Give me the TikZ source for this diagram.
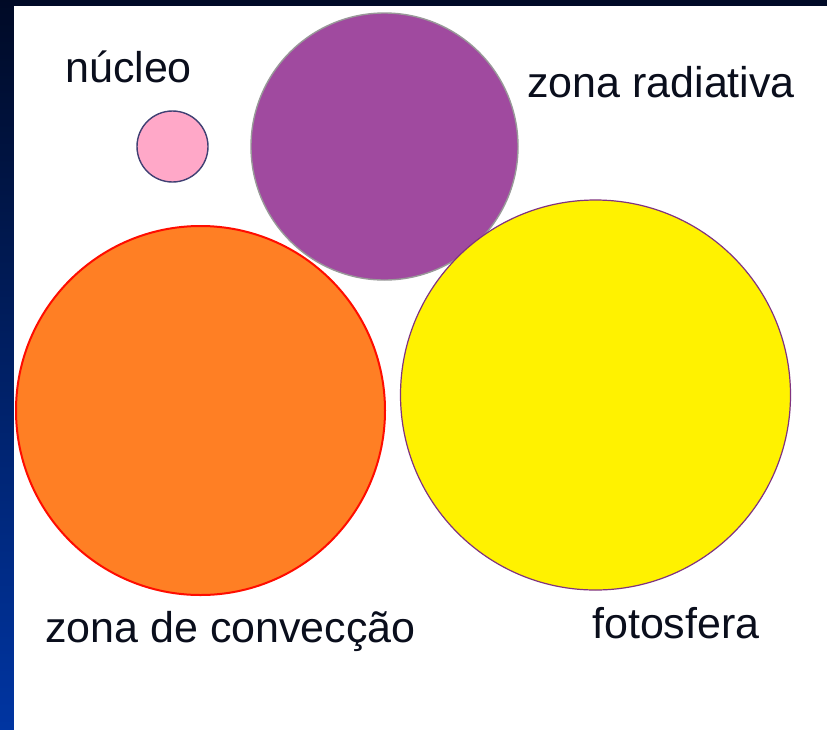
\documentclass[tikz,border=0pt]{standalone}
\usepackage{fontspec}
\setmainfont{Liberation Sans}
\definecolor{navytop}{HTML}{000A26}
\definecolor{navymid}{HTML}{04266E}
\definecolor{bluebot}{HTML}{0035A2}
\definecolor{pinkfill}{HTML}{FFA8C8}
\definecolor{purplefill}{HTML}{A04A9F}
\definecolor{orangefill}{HTML}{FF7F24}
\definecolor{yellowfill}{HTML}{FFF200}
\definecolor{txt}{HTML}{0A0E1C}
\tikzset{
  lbl/.style={anchor=base west, inner sep=0pt, text=txt, font=\fontsize{43}{50}\selectfont},
  ball/.style={line width=1.4pt}
}
\begin{document}
\begin{tikzpicture}[x=1pt,y=-1pt]
\useasboundingbox (0,0) rectangle (827,729);
\shade[top color=navytop, middle color=navymid, bottom color=bluebot] (-1,-1) rectangle (828,730);
\fill[white] (14,6) rectangle (830,732);
\fill[pinkfill, draw=black!60!blue!50!gray, ball] (172.5,146.5) circle (35.5);
\fill[purplefill, draw=gray!80, ball] (384.5,146.5) circle (133.5);
\fill[orangefill, draw=red!90!orange, line width=2pt] (200.5,410.5) circle (184.5);
\fill[yellowfill, draw=violet!60!gray, line width=1.2pt] (595.5,395) circle (195);
\node[lbl] (nuc) at (65,82) {núcleo};
\node[lbl] (rad) at (527,97) {zona radiativa};
\node[lbl] (conv) at (45,642) {zona de convecção};
\node[lbl] (foto) at (592,638) {fotosfera};
\end{tikzpicture}
\end{document}
